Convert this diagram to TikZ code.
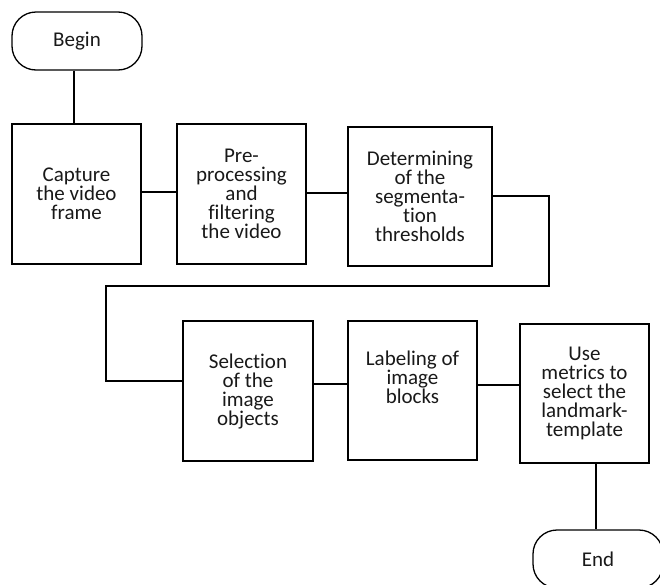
\documentclass[tikz,border=0pt]{standalone}
\usepackage{fontspec}
\setmainfont[Ligatures={NoCommon,NoRare,NoDiscretionary}]{Carlito}
\begin{document}
\begin{tikzpicture}[x=1pt,y=-1pt,line width=1.3pt,
  txt/.style={font=\fontsize{21}{19}\selectfont, align=center, text=black!90, inner sep=0pt},
  stepbox/.style={txt, draw=black, minimum width=129pt, minimum height=140pt},
  term/.style={txt, draw=black, rounded corners=24pt, minimum width=130pt, minimum height=58pt}]
\useasboundingbox (0,0) rectangle (660,584);
\clip (0,0) rectangle (660,584);
\node[term] (begin) at (77,41) {Begin};
\node[stepbox] (b1) at (76.5,194) {Capture\\the video\\frame};
\node[stepbox] (b2) at (241.5,194) {Pre-\\processing\\and\\filtering\\the video};
\node[stepbox, minimum width=144pt, minimum height=139pt] (b3) at (420,196.5) {Determining\\of the\\segmenta-\\tion\\thresholds};
\node[stepbox, minimum width=130pt] (b4) at (248,391) {Selection\\of the\\image\\objects};
\node[stepbox, minimum height=139pt] (b5) at (412.5,390.5) {Labeling of\\image\\blocks\\[8pt]};
\node[stepbox, minimum height=139pt] (b6) at (584.5,393.5) {Use\\metrics to\\select the\\landmark-\\template};
\node[term] (end) at (598,559) {\raisebox{-3pt}{End}};
\coordinate (vb) at (74,0);
\coordinate (ve) at (596,0);
\coordinate (k1) at (549,286);
\coordinate (k2) at (106,286);
\draw (vb |- begin.south) -- (vb |- b1.north);
\draw (b1.east |- 0,192) -- (b2.west |- 0,192);
\draw (b2.east |- 0,193) -- (b3.west |- 0,193);
\draw (b3.east |- 0,196) -| (k1) -- (k2) |- (b4.west |- 0,381);
\draw (b4.east |- 0,384) -- (b5.west |- 0,384);
\draw (b5.east |- 0,385) -- (b6.west |- 0,385);
\draw (ve |- b6.south) -- (ve |- end.north);
\end{tikzpicture}
\end{document}
